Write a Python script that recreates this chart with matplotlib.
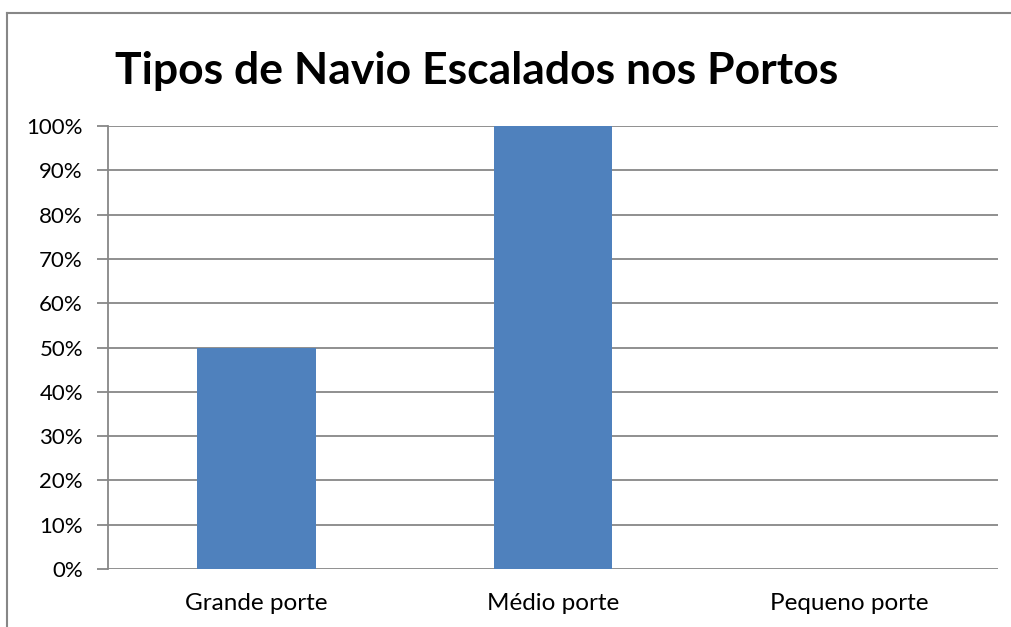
import matplotlib.pyplot as plt
from matplotlib.lines import Line2D
from matplotlib.ticker import PercentFormatter

categories = ["Grande porte", "Médio porte", "Pequeno porte"]
values = [50, 100, 0]
title = "Tipos de Navio Escalados nos Portos"

plt.rcParams["font.family"] = ["Lato", "DejaVu Sans"]

fig = plt.figure(figsize=(10.12, 6.27), dpi=100)
ax = fig.add_axes([0.1067, 0.0925, 0.8795, 0.7065])

x = range(len(categories))
ax.bar(x, values, width=0.4, color="#4F81BD", zorder=3)

ax.set_xlim(-0.5, len(categories) - 0.5)
ax.set_ylim(0, 100)
ax.set_yticks(range(0, 101, 10))
ax.yaxis.set_major_formatter(PercentFormatter(decimals=0))
ax.set_xticks(list(x))
ax.set_xticklabels(categories)

grid_col = "#878787"
ax.grid(axis="y", color=grid_col, linewidth=1.3, zorder=0)
for side in ["top", "right", "bottom"]:
    ax.spines[side].set_visible(False)
ax.spines["left"].set_color(grid_col)
ax.spines["left"].set_linewidth(1.3)
ax.tick_params(axis="y", length=8, width=1.3, color=grid_col, labelsize=16, pad=10)
ax.tick_params(axis="x", length=0, labelsize=17.5, pad=17)

fig.text(0.471, 0.886, title, ha="center", va="center", fontsize=32, fontweight="bold")

# outer chart border (only top and left visible in the crop)
bx, by = 7 / 1012, 1 - 13 / 627
fig.add_artist(Line2D([bx, bx], [0, by], transform=fig.transFigure,
                      color=grid_col, linewidth=1.5))
fig.add_artist(Line2D([bx, 1], [by, by], transform=fig.transFigure,
                      color=grid_col, linewidth=1.5))

fig.savefig("out.png", dpi=100)
